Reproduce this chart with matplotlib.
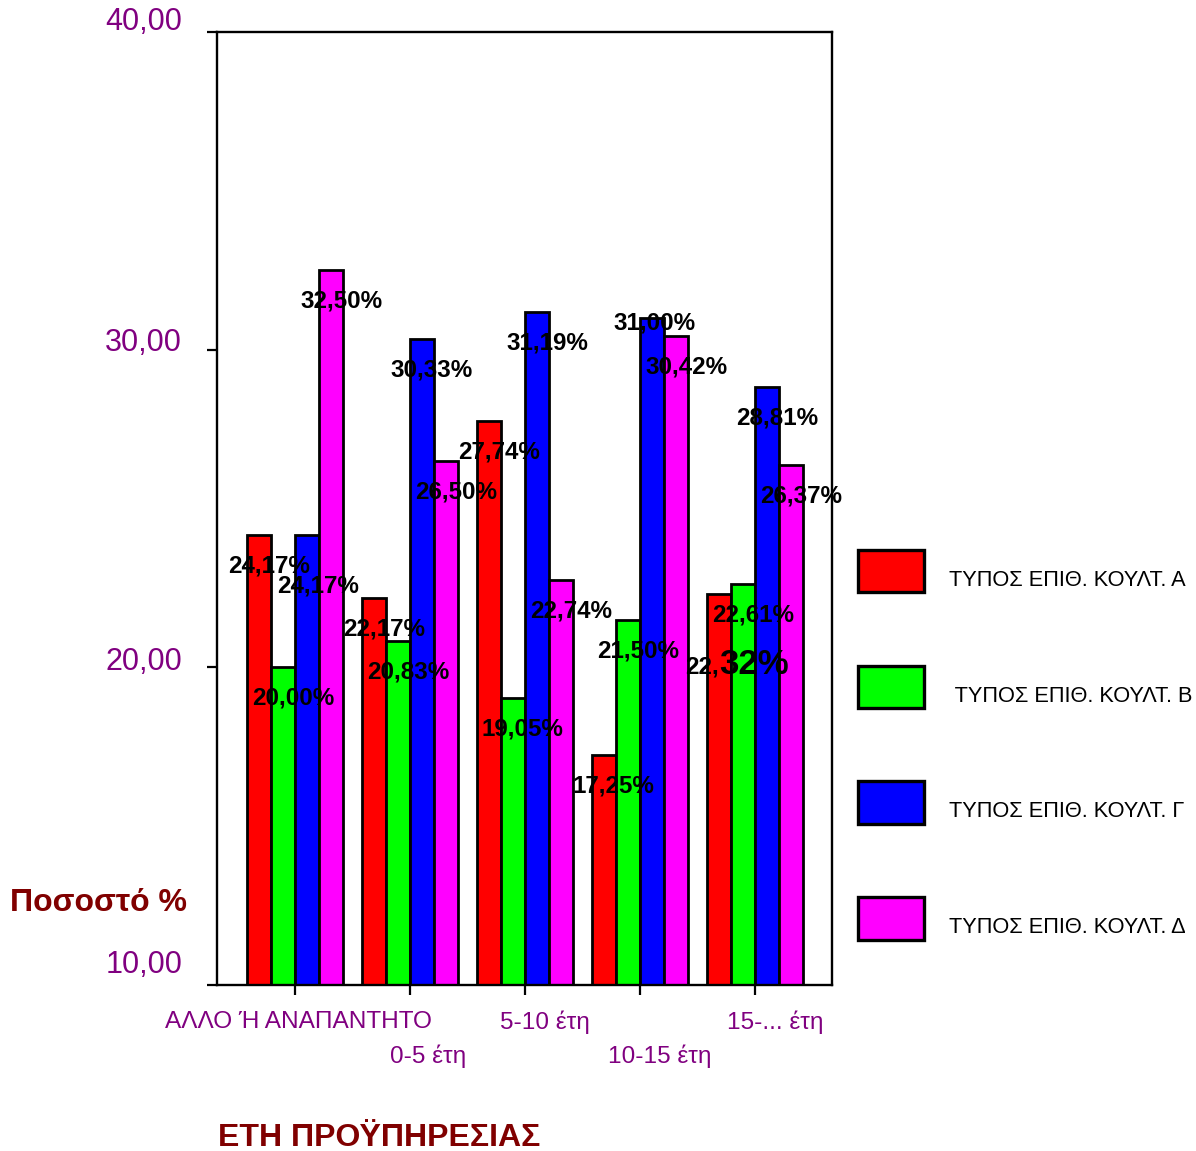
import matplotlib
matplotlib.use("Agg")
import matplotlib.pyplot as plt
import matplotlib.transforms as mtransforms
import numpy as np

plt.rcParams['font.family'] = ['Liberation Sans', 'DejaVu Sans']

# Data
categories = ["ΑΛΛΟ Ή ΑΝΑΠΑΝΤΗΤΟ", "0-5 έτη", "5-10 έτη", "10-15 έτη", "15-... έτη"]
series_names = ["ΤΥΠΟΣ ΕΠΙΘ. ΚΟΥΛΤ. Α", " ΤΥΠΟΣ ΕΠΙΘ. ΚΟΥΛΤ. Β",
                "ΤΥΠΟΣ ΕΠΙΘ. ΚΟΥΛΤ. Γ", "ΤΥΠΟΣ ΕΠΙΘ. ΚΟΥΛΤ. Δ"]
type_a = [24.17, 22.17, 27.74, 17.25, 22.32]
type_b = [20.00, 20.83, 19.05, 21.50, 22.61]
type_g = [24.17, 30.33, 31.19, 31.00, 28.81]
type_d = [32.50, 26.50, 22.74, 30.42, 26.37]
y_ticks = [10, 20, 30, 40]

series = [type_a, type_b, type_g, type_d]
colors = ['#FF0000', '#00FF00', '#0000FF', '#FF00FF']
purple = '#800080'
maroon = '#800000'

W, H = 1196, 1151
fig = plt.figure(figsize=(W / 100, H / 100), dpi=100)
ax = fig.add_axes([217 / W, 1 - 985 / H, 615 / W, 953 / H])

x = np.arange(len(categories))
bw = 0.21
containers = []
for k, (vals, col) in enumerate(zip(series, colors)):
    bc = ax.bar(x + (k - 1.5) * bw, vals, width=bw, color=col,
                edgecolor='black', linewidth=2.0, zorder=2)
    containers.append(bc)

ax.set_xlim(-0.678, 4.67)
ax.set_ylim(10, 40)

for sp in ax.spines.values():
    sp.set_linewidth(1.7)
    sp.set_color('black')

ax.set_yticks(y_ticks)
ax.set_yticklabels([])
ax.set_xticks(x)
ax.set_xticklabels([])
ax.tick_params(axis='both', direction='out', length=7, width=1.6, color='black')

# y tick labels
fig_scale = fig.dpi_scale_trans
y_shift = {10: 20, 20: 5, 30: 7, 40: 10}
for v in y_ticks:
    tr = ax.get_yaxis_transform() + mtransforms.ScaledTranslation(0, y_shift[v] / 100, fig_scale)
    ax.text(-35 / 615, v, f"{v:.2f}".replace('.', ','), transform=tr,
            ha='right', va='center', fontsize=22, color=purple)

# x tick labels in two staggered rows
x_shift = [3, 18, 20, 20, 20]
for i, lab in enumerate(categories):
    row_px = 37 if i % 2 == 0 else 71
    tr = ax.get_xaxis_transform() + mtransforms.ScaledTranslation(x_shift[i] / 100, -row_px / 100, fig_scale)
    ax.text(i, 0, lab, transform=tr, ha='center', va='center',
            fontsize=17.6, color=purple)

# value labels
default_off = (10, -31)
overrides = {(0, 2): (11, -51), (3, 2): (2, -5)}
for k, vals in enumerate(series):
    for i, v in enumerate(vals):
        bx = i + (k - 1.5) * bw
        txt = f"{v:.2f}".replace('.', ',') + '%'
        if (i, k) == (4, 0):
            head, tail = txt.split(',')
            ax.annotate(head + ',', xy=(bx, v), xytext=(0, -80), textcoords='offset pixels',
                        ha='right', va='baseline', fontsize=17.4, fontweight='bold',
                        color='black', zorder=5, annotation_clip=False)
            ax.annotate(tail, xy=(bx, v), xytext=(0, -80), textcoords='offset pixels',
                        ha='left', va='baseline', fontsize=25, fontweight='bold',
                        color='black', zorder=5, annotation_clip=False)
            continue
        dx, dy = overrides.get((i, k), default_off)
        ax.annotate(txt, xy=(bx, v), xytext=(dx, dy), textcoords='offset pixels',
                    ha='center', va='center', fontsize=17.4, fontweight='bold',
                    color='black', zorder=5, annotation_clip=False)

# legend
leg = ax.legend(containers, series_names, loc='upper left',
                bbox_to_anchor=(858 / W, 1 - 550 / H), bbox_transform=fig.transFigure,
                frameon=False, fontsize=15.7, handlelength=3.03, handleheight=2.62,
                labelspacing=3.36, handletextpad=1.15, borderpad=0, borderaxespad=0)
for h in leg.legend_handles:
    h.set_linewidth(2.4)
for t in leg.get_texts():
    t.set_transform(t.get_transform() + mtransforms.ScaledTranslation(0, -0.08, fig_scale))

# axis titles
fig.text(10 / W, 1 - 903 / H, "Ποσοστό %", ha='left', va='center',
         fontsize=23, fontweight='bold', color=maroon)
fig.text(379 / W, 1 - 1138 / H, "ΕΤΗ ΠΡΟΫΠΗΡΕΣΙΑΣ", ha='center', va='center',
         fontsize=23, fontweight='bold', color=maroon)

fig.savefig('out.png', dpi=100)
